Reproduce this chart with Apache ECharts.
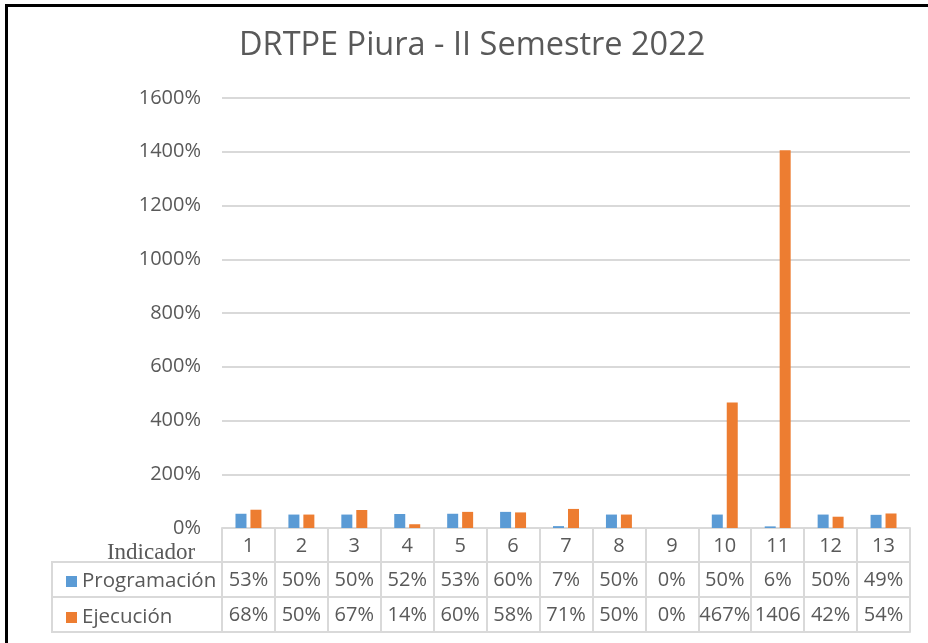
<!DOCTYPE html>
<html>
<head>
<meta charset="utf-8">
<title>DRTPE Piura - II Semestre 2022</title>
<script src="https://cdn.jsdelivr.net/npm/echarts@6/dist/echarts.min.js"></script>
<style>
  html, body { margin: 0; padding: 0; background: #fff; }
  #chart { position: absolute; left: 0; top: 0; width: 928px; height: 643px; }
  /* marco negro recortado (solo arriba e izquierda) */
  .frame {
    position: absolute; left: 5px; top: 4px; right: 0; bottom: 0;
    border-top: 3px solid #000; border-left: 3px solid #000;
    pointer-events: none;
  }
</style>
</head>
<body>
<div id="chart"></div>
<div class="frame"></div>
<script>
// datos
const indicadores = ['1', '2', '3', '4', '5', '6', '7', '8', '9', '10', '11', '12', '13']
const programacion = [53, 50, 50, 52, 53, 60, 7, 50, 0, 50, 6, 50, 49]
const ejecucion = [68, 50, 67, 14, 60, 58, 71, 50, 0, 467, 1406, 42, 54]
const yMax = 1600
const yStep = 200

const gris = '#595959'
const linea = '#D9D9D9'
const fuente = 'Open Sans'

const pct = v => v + '%'

// eje de tabla (fila con etiquetas bajo el grafico)
function filaTabla(data, offset, conEtiquetas, largo) {
  return {
    type: 'category',
    position: 'bottom',
    offset: offset,
    data: data,
    silent: true,
    axisLine: { show: true, lineStyle: { color: linea, width: 2 } },
    axisTick: {
      show: conEtiquetas, interval: 0, alignWithLabel: false, length: largo || 35,
      lineStyle: { color: linea, width: 2 }
    },
    axisLabel: {
      show: conEtiquetas, interval: 0, color: gris, fontFamily: fuente,
      fontSize: 20, lineHeight: 20, margin: 8,
      width: 53, overflow: 'truncate', ellipsis: ''
    },
    splitLine: { show: false }
  }
}

const chart = echarts.init(document.getElementById('chart'))

chart.setOption({
  animation: false,
  textStyle: { fontFamily: fuente },
  title: {
    text: 'DRTPE Piura - II Semestre 2022',
    left: 239,
    top: 29,
    padding: 0,
    textStyle: { color: gris, fontFamily: fuente, fontSize: 32.5, fontWeight: 'normal' }
  },
  legend: {
    orient: 'vertical',
    left: 61,
    top: 566,
    itemWidth: 11,
    itemHeight: 11,
    itemGap: 15,
    icon: 'rect',
    textStyle: { color: gris, fontFamily: fuente, fontSize: 20.5, lineHeight: 20 },
    data: ['Programación', 'Ejecución']
  },
  grid: { left: 222, right: 18, top: 98, bottom: 115, containLabel: false },
  xAxis: [
    filaTabla(indicadores, 0, true, 34),
    filaTabla(programacion.map(pct), 34, true),
    filaTabla(ejecucion.map(pct), 69, true),
    filaTabla(indicadores, 104, false)
  ],
  yAxis: {
    type: 'value',
    min: 0,
    max: yMax,
    interval: yStep,
    axisLine: { show: false },
    axisTick: { show: false },
    axisLabel: {
      formatter: pct, color: gris, fontFamily: fuente, fontSize: 20, margin: 21
    },
    splitLine: { lineStyle: { color: linea, width: 2 } }
  },
  series: [
    {
      name: 'Programación',
      type: 'bar',
      xAxisIndex: 0,
      barWidth: 11,
      barGap: '36%',
      itemStyle: { color: '#5B9BD5' },
      data: programacion
    },
    {
      name: 'Ejecución',
      type: 'bar',
      xAxisIndex: 0,
      barWidth: 11,
      barGap: '36%',
      itemStyle: { color: '#ED7D31' },
      data: ejecucion
    }
  ],
  graphic: [
    // parte izquierda de la tabla (celdas de leyenda)
    {
      type: 'rect', silent: true,
      shape: { x: 52, y: 562, width: 170, height: 70 },
      style: { fill: 'none', stroke: linea, lineWidth: 2 }
    },
    {
      type: 'line', silent: true,
      shape: { x1: 52, y1: 597, x2: 222, y2: 597 },
      style: { stroke: linea, lineWidth: 2 }
    },
    {
      type: 'text', silent: true,
      x: 151, y: 553,
      style: {
        text: 'Indicador', fill: gris, font: '23px "Liberation Serif"',
        align: 'center', verticalAlign: 'middle'
      }
    }
  ]
})
</script>
</body>
</html>
